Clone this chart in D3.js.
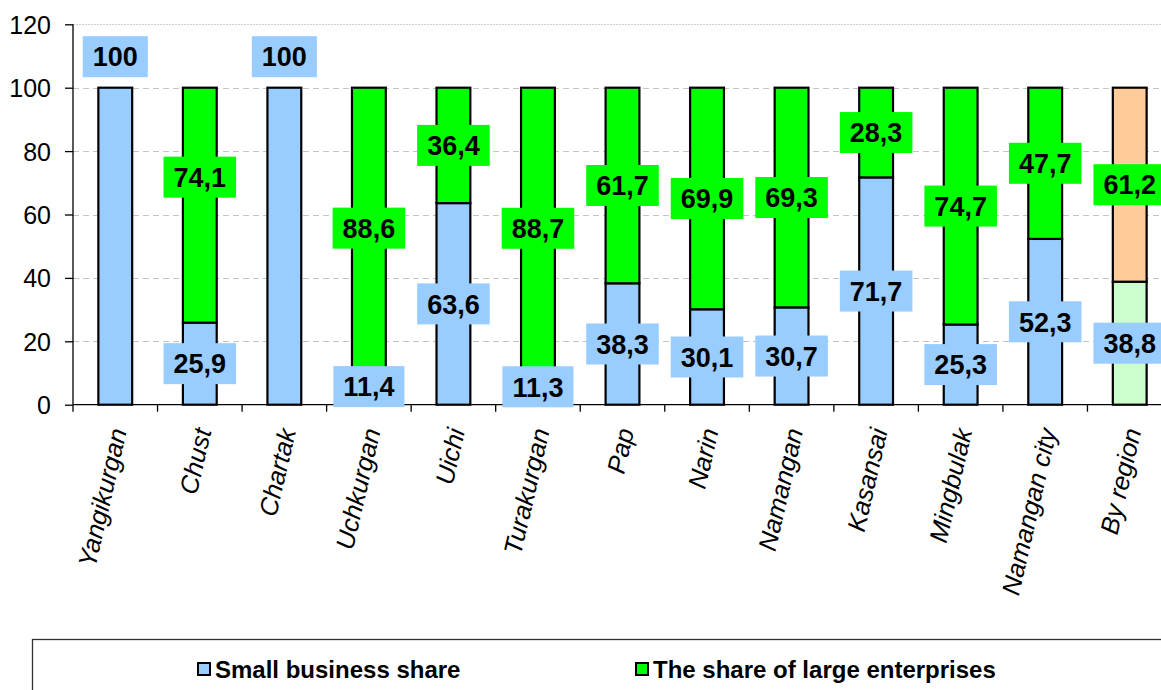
<!DOCTYPE html>
<html>
<head>
<meta charset="utf-8">
<script src="https://cdn.jsdelivr.net/npm/d3@7"></script>
<style>
  html, body { margin: 0; padding: 0; background: #fff; }
  svg { display: block; font-family: "Liberation Sans", Arial, sans-serif; }
</style>
</head>
<body>
<svg id="chart" width="1161" height="690"></svg>
<script>
// Districts of Namangan region
const districts = ["Yangikurgan", "Chust", "Chartak", "Uchkurgan", "Uichi", "Turakurgan",
  "Pap", "Narin", "Namangan", "Kasansai", "Mingbulak", "Namangan city", "By region"];

// Share of small business, %
const smallShare = [100, 25.9, 100, 11.4, 63.6, 11.3, 38.3, 30.1, 30.7, 71.7, 25.3, 52.3, 38.8];

// Share of large enterprises, %
const largeShare = [0, 74.1, 0, 88.6, 36.4, 88.7, 61.7, 69.9, 69.3, 28.3, 74.7, 47.7, 61.2];

const yTicks = [0, 20, 40, 60, 80, 100, 120];

const seriesNames = ["Small business share", "The share of large enterprises"];

// Colours
const colSmall = "#99ccff";
const colLarge = "#00ff00";
const totalSmall = "#ccffcc";   // summary column, lower part
const totalLarge = "#ffcc99";   // summary column, upper part

// Label tweaks (pixels): a label that sits higher than its segment centre
const largeLabelLift = { "Chust": 28 };

const FONT = "Liberation Sans, Arial, sans-serif";

const svg = d3.select("#chart");
svg.append("rect").attr("width", 1161).attr("height", 690).attr("fill", "#fff");

const plotLeft = 73, plotRight = 1172, plotTop = 24.3, plotBottom = 404.7;

const x = d3.scaleBand().domain(districts).range([plotLeft, plotRight]).padding(0);
const y = d3.scaleLinear().domain([0, 120]).range([plotBottom, plotTop]);
const barW = x.bandwidth() * 0.4;

// Grid lines
const grid = svg.append("g");
yTicks.filter(t => t > 0).forEach(t => {
  grid.append("line")
    .attr("x1", plotLeft).attr("x2", 1161)
    .attr("y1", Math.round(y(t)) + 0.5).attr("y2", Math.round(y(t)) + 0.5)
    .attr("stroke", t === 120 ? "#cfcfcf" : "#c4c4c4")
    .attr("stroke-width", 1.2)
    .attr("stroke-dasharray", t === 120 ? "2,1" : "6,4");
});

// Bars
const rows = districts.map((d, i) => ({ name: d, small: smallShare[i], large: largeShare[i], i }));
const isTotal = d => d.name === "By region";

const bars = svg.append("g");
rows.forEach(d => {
  const bx = x(d.name) + (x.bandwidth() - barW) / 2;
  bars.append("rect")
    .attr("x", bx).attr("width", barW)
    .attr("y", y(d.small)).attr("height", y(0) - y(d.small))
    .attr("fill", isTotal(d) ? totalSmall : colSmall)
    .attr("stroke", "#000").attr("stroke-width", 2.2);
  if (d.large > 0) {
    bars.append("rect")
      .attr("x", bx).attr("width", barW)
      .attr("y", y(d.small + d.large)).attr("height", y(d.small) - y(d.small + d.large))
      .attr("fill", isTotal(d) ? totalLarge : colLarge)
      .attr("stroke", "#000").attr("stroke-width", 2.2);
  }
});

// Axes
const yAxis = svg.append("g")
  .attr("transform", `translate(${plotLeft},0)`)
  .call(d3.axisLeft(y).tickValues(yTicks).tickSize(8).tickPadding(14).tickFormat(d3.format("d")));
yAxis.attr("font-family", FONT);
yAxis.select(".domain").attr("stroke", "#000").attr("stroke-width", 1.3).attr("d", `M0,${plotTop}V${plotBottom}`);
yAxis.selectAll(".tick line").attr("stroke", "#000").attr("stroke-width", 1.3);
yAxis.selectAll(".tick text")
  .attr("font-size", 25).attr("fill", "#000").attr("dy", "0.36em");

const xAxisG = svg.append("g");
xAxisG.append("line")
  .attr("x1", plotLeft).attr("x2", 1161).attr("y1", plotBottom).attr("y2", plotBottom)
  .attr("stroke", "#000").attr("stroke-width", 1.3);
districts.forEach(d => {
  xAxisG.append("line")
    .attr("x1", x(d)).attr("x2", x(d)).attr("y1", plotBottom).attr("y2", plotBottom + 7)
    .attr("stroke", "#000").attr("stroke-width", 1.3);
});
districts.forEach(d => {
  const cx = x(d) + x.bandwidth() / 2 + 3;
  xAxisG.append("text")
    .attr("transform", `translate(${cx},${plotBottom + 24}) rotate(-77)`)
    .attr("text-anchor", "end").attr("dy", "0.35em")
    .attr("font-size", 25.5).attr("font-style", "italic").attr("fill", "#000")
    .text(d);
});

// Value labels on coloured boxes
const fmt = v => String(v).replace(".", ",");
const labels = svg.append("g");
function drawLabel(cx, cy, value, bg) {
  const g = labels.append("g").attr("transform", `translate(${cx},${cy})`);
  const t = g.append("text")
    .attr("text-anchor", "middle").attr("dy", "0.36em")
    .attr("font-size", 27).attr("font-weight", "bold").attr("fill", "#000")
    .text(fmt(value));
  const w = t.node().getComputedTextLength() + 20;
  g.insert("rect", "text")
    .attr("x", -w / 2).attr("y", -20.5).attr("width", w).attr("height", 41)
    .attr("fill", bg);
}
rows.forEach(d => {
  const cx = x(d.name) + x.bandwidth() / 2;
  if (d.large === 0) {
    drawLabel(cx, y(d.small) - 31, d.small, colSmall);
  } else {
    drawLabel(cx, y(d.small / 2), d.small, colSmall);
  }
  if (d.large > 0) {
    const lift = largeLabelLift[d.name] || 0;
    drawLabel(cx, y(d.small + d.large / 2) - lift, d.large, colLarge);
  }
});

// Legend
const legend = svg.append("g");
legend.append("rect")
  .attr("x", 32.5).attr("y", 639.5).attr("width", 1200).attr("height", 100)
  .attr("fill", "#fff").attr("stroke", "#333").attr("stroke-width", 1.3);
const legendItems = [
  { name: seriesNames[0], color: colSmall, x: 197 },
  { name: seriesNames[1], color: colLarge, x: 635 }
];
legendItems.forEach(it => {
  legend.append("rect")
    .attr("x", it.x + 1).attr("y", 663).attr("width", 12).attr("height", 12)
    .attr("fill", it.color).attr("stroke", "#000").attr("stroke-width", 2);
  legend.append("text")
    .attr("x", it.x + 18).attr("y", 669).attr("dy", "0.36em")
    .attr("font-size", 24).attr("font-weight", "bold").attr("fill", "#000")
    .text(it.name);
});
</script>
</body>
</html>
